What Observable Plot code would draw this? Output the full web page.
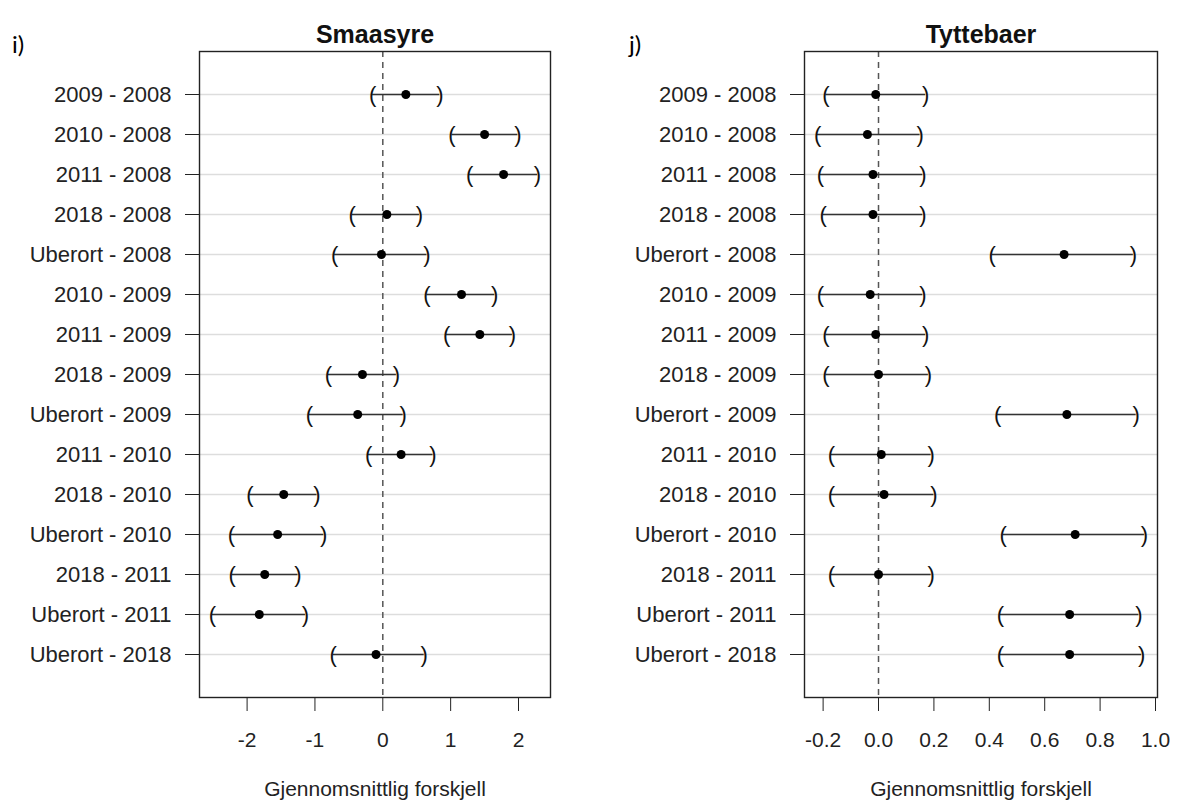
<!DOCTYPE html>
<html><head><meta charset="utf-8">
<script src="https://cdn.jsdelivr.net/npm/d3@7"></script>
<script src="https://cdn.jsdelivr.net/npm/@observablehq/plot@0.6"></script>
<style>
body{margin:0;background:#fff;}
#wrap{position:relative;width:1178px;height:808px;overflow:hidden;background:#fff;}
.panel{position:absolute;top:0;}
.tag{position:absolute;font-family:Lato,"Open Sans",sans-serif;font-size:24px;color:#000;line-height:28px;}
</style></head><body>
<div id="wrap"></div>
<script>
const comparisons = ["2009 - 2008","2010 - 2008","2011 - 2008","2018 - 2008","Uberort - 2008",
  "2010 - 2009","2011 - 2009","2018 - 2009","Uberort - 2009","2011 - 2010",
  "2018 - 2010","Uberort - 2010","2018 - 2011","Uberort - 2011","Uberort - 2018"];

const smaasyreEst = [0.34, 1.50, 1.78, 0.06, -0.02, 1.16, 1.43, -0.30, -0.37, 0.27, -1.46, -1.55, -1.74, -1.82, -0.10];
const smaasyreLwr = [-0.15, 1.02, 1.28, -0.45, -0.71, 0.65, 0.94, -0.80, -1.08, -0.21, -1.96, -2.23, -2.22, -2.51, -0.73];
const smaasyreUpr = [0.84, 1.99, 2.28, 0.54, 0.65, 1.65, 1.91, 0.20, 0.30, 0.74, -0.97, -0.87, -1.25, -1.14, 0.61];

const tyttebaerEst = [-0.01, -0.04, -0.02, -0.02, 0.67, -0.03, -0.01, 0.00, 0.68, 0.01, 0.02, 0.71, 0.00, 0.69, 0.69];
const tyttebaerLwr = [-0.19, -0.22, -0.21, -0.20, 0.41, -0.21, -0.19, -0.19, 0.43, -0.17, -0.17, 0.45, -0.17, 0.44, 0.44];
const tyttebaerUpr = [0.17, 0.15, 0.16, 0.16, 0.92, 0.16, 0.17, 0.18, 0.93, 0.19, 0.20, 0.96, 0.19, 0.94, 0.95];

const panelTitles = ["Smaasyre", "Tyttebaer"];
const panelTags = ["i)", "j)"];
const xTicksSmaasyre = [-2, -1, 0, 1, 2];
const xTicksTyttebaer = [-0.2, 0.0, 0.2, 0.4, 0.6, 0.8, 1.0];
const axisTitle = "Gjennomsnittlig forskjell";

const FONT = '"Liberation Sans", Arial, Helvetica, sans-serif';

function panel({title, est, lwr, upr, ticks, fmt, width, marginLeft, marginRight}) {
  const data = comparisons.map((c, i) => ({c, est: est[i], lwr: lwr[i], upr: upr[i]}));
  const lo = d3.min(lwr), hi = d3.max(upr), pad = (hi - lo) * 0.04;
  return Plot.plot({
    width, height: 808, marginLeft, marginRight, marginTop: 51, marginBottom: 111,
    style: {fontFamily: FONT, fontSize: "21px", color: "#222", background: "transparent", overflow: "visible"},
    x: {domain: [lo - pad, hi + pad]},
    y: {type: "point", domain: comparisons, padding: 1.075},
    marks: [
      Plot.gridY({stroke: "#dddddd", strokeOpacity: 1, strokeWidth: 1.5}),
      Plot.ruleX([0], {stroke: "#555", strokeWidth: 1.5, strokeDasharray: "6,5"}),
      Plot.ruleY(data, {y: "c", x1: "lwr", x2: "upr", stroke: "#333", strokeWidth: 1.5}),
      Plot.text(data, {x: "lwr", y: "c", text: () => "(", fontSize: 22, fill: "#111"}),
      Plot.text(data, {x: "upr", y: "c", text: () => ")", fontSize: 22, fill: "#111"}),
      Plot.dot(data, {x: "est", y: "c", r: 4.5, fill: "#000", stroke: null}),
      Plot.frame({stroke: "#222", strokeWidth: 1.4}),
      Plot.axisY({tickSize: 14, tickPadding: 14, label: null, fontSize: 22, color: "#222"}),
      Plot.axisX({ticks, tickFormat: fmt, tickSize: 14, tickPadding: 21, label: null, fontSize: 21, color: "#222"}),
      Plot.text([title], {text: d => d, frameAnchor: "top", dy: -26, fontWeight: "bold", fontSize: 25, fill: "#111"}),
      Plot.text([axisTitle], {text: d => d, frameAnchor: "bottom", dy: 98, fontSize: 21, fill: "#222"})
    ]
  });
}

const wrap = document.getElementById("wrap");

const left = panel({
  title: panelTitles[0], est: smaasyreEst, lwr: smaasyreLwr, upr: smaasyreUpr,
  ticks: xTicksSmaasyre, fmt: d => (d < 0 ? "-" : "") + Math.abs(d),
  width: 590, marginLeft: 199, marginRight: 40
});
left.classList.add("panel"); left.style.left = "0px";
wrap.appendChild(left);

const right = panel({
  title: panelTitles[1], est: tyttebaerEst, lwr: tyttebaerLwr, upr: tyttebaerUpr,
  ticks: xTicksTyttebaer, fmt: d => (d < 0 ? "-" : "") + Math.abs(d).toFixed(1),
  width: 588, marginLeft: 214, marginRight: 21
});
right.classList.add("panel"); right.style.left = "590px";
wrap.appendChild(right);

[[panelTags[0], 12], [panelTags[1], 629]].forEach(([t, x]) => {
  const d = document.createElement("div");
  d.className = "tag"; d.textContent = t;
  d.style.left = x + "px"; d.style.top = "30px";
  wrap.appendChild(d);
});
</script>
</body></html>
